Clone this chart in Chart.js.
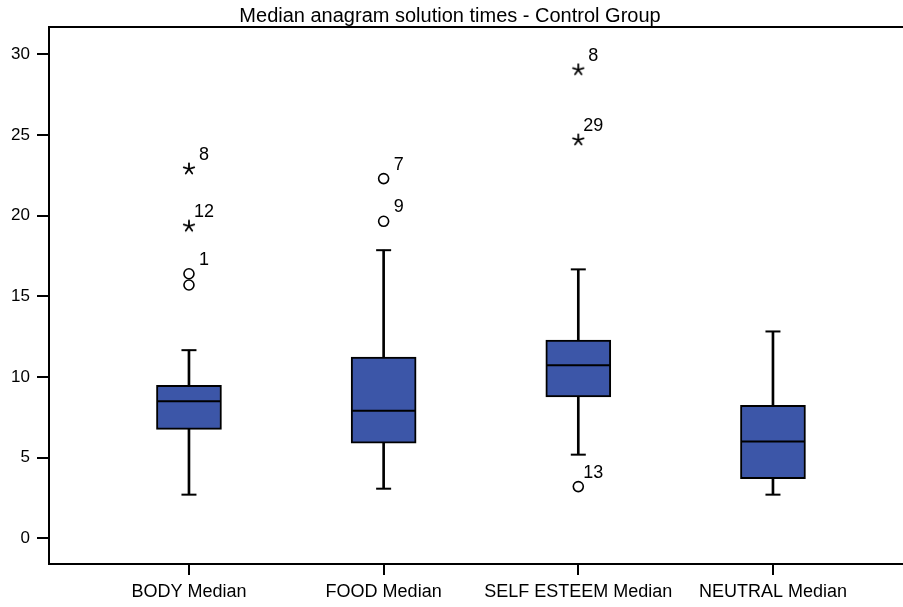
<!DOCTYPE html>
<html>
<head>
<meta charset="utf-8">
<script src="https://cdn.jsdelivr.net/npm/chart.js@4/dist/chart.umd.min.js"></script>
<style>
  html, body { margin: 0; padding: 0; background: #fff; }
  #wrap { width: 903px; height: 607px; }
</style>
</head>
<body>
<div id="wrap"><canvas id="c" width="903" height="607"></canvas></div>
<script>
// ---- data ----
const categories = ['BODY Median', 'FOOD Median', 'SELF ESTEEM Median', 'NEUTRAL Median'];
const whiskerLow  = [2.7, 3.07, 5.18, 2.7];
const q1          = [6.75, 5.9, 8.76, 3.69];
const median      = [8.49, 7.91, 10.73, 6.0];
const q3          = [9.48, 11.23, 12.28, 8.24];
const whiskerHigh = [11.66, 17.86, 16.67, 12.82];

// outliers (circles) and extremes (stars): category number, value, case label
const circleCat = [1, 1, 2, 2, 3];
const circleVal = [16.4, 15.7, 22.3, 19.65, 3.2];
const circleId  = ['1', '', '7', '9', '13'];
const starCat = [1, 1, 3, 3];
const starVal = [22.9, 19.35, 29.05, 24.7];
const starId  = ['8', '12', '8', '29'];

const yTicks = [0, 5, 10, 15, 20, 25, 30];
const title = 'Median anagram solution times - Control Group';

// ---- styles ----
const FONT = "'Liberation Sans', Arial, sans-serif";
const BOX_BLUE = '#3c56a8';

// asterisk marker
function makeStar() {
  const c = document.createElement('canvas');
  c.width = 14; c.height = 14;
  const g = c.getContext('2d');
  g.strokeStyle = '#000';
  g.lineWidth = 1.8;
  g.lineCap = 'round';
  for (let k = 0; k < 5; k++) {
    const a = -Math.PI / 2 + k * 2 * Math.PI / 5;
    g.beginPath();
    g.moveTo(7, 7);
    g.lineTo(7 + Math.cos(a) * 5.5, 7 + Math.sin(a) * 5.5);
    g.stroke();
  }
  return c;
}
const starImg = makeStar();

const xs = categories.map((_, i) => i + 1);

function zeroPad(s) { s.paddingTop = 0; s.paddingBottom = 0; s.paddingLeft = 0; s.paddingRight = 0; }

const framePlugin = {
  id: 'frameAndLabels',
  beforeDatasetsDraw(chart) {
    const ca = chart.chartArea, ctx = chart.ctx;
    ctx.save();
    ctx.strokeStyle = '#000';
    ctx.lineWidth = 2;
    ctx.beginPath();
    ctx.moveTo(ca.left - 1, ca.top);
    ctx.lineTo(chart.width, ca.top);
    ctx.stroke();
    // title
    ctx.fillStyle = '#000';
    ctx.font = '20px ' + FONT;
    ctx.textAlign = 'center';
    ctx.textBaseline = 'middle';
    ctx.fillText(title, 450, 16);
    ctx.restore();
  },
  afterDatasetsDraw(chart) {
    const ctx = chart.ctx;
    ctx.save();
    ctx.fillStyle = '#000';
    ctx.font = '18px ' + FONT;
    ctx.textAlign = 'center';
    ctx.textBaseline = 'middle';
    chart.data.datasets.forEach((ds, di) => {
      if (!ds.caseIds) return;
      const meta = chart.getDatasetMeta(di);
      meta.data.forEach((el, i) => {
        const t = ds.caseIds[i];
        if (t) ctx.fillText(t, el.x + 15, el.y - 14);
      });
    });
    ctx.restore();
  }
};

new Chart(document.getElementById('c'), {
  type: 'bar',
  data: {
    datasets: [
      {
        label: 'whisker',
        data: xs.map((x, i) => ({ x, y: [whiskerLow[i], whiskerHigh[i]] })),
        backgroundColor: '#000',
        borderWidth: 0,
        barThickness: 2,
        grouped: false,
        order: 5
      },
      {
        label: 'box',
        data: xs.map((x, i) => ({ x, y: [q1[i], q3[i]] })),
        backgroundColor: BOX_BLUE,
        borderColor: '#000',
        borderWidth: 2,
        borderSkipped: false,
        barThickness: 65,
        grouped: false,
        order: 4
      },
      {
        type: 'scatter',
        label: 'median',
        data: xs.map((x, i) => ({ x, y: median[i] })),
        pointStyle: 'line',
        pointRadius: 31.5,
        borderColor: '#000',
        borderWidth: 2,
        order: 3
      },
      {
        type: 'scatter',
        label: 'caps',
        data: xs.map((x, i) => ({ x, y: whiskerLow[i] })).concat(xs.map((x, i) => ({ x, y: whiskerHigh[i] }))),
        pointStyle: 'line',
        pointRadius: 7.5,
        borderColor: '#000',
        borderWidth: 2,
        order: 3
      },
      {
        type: 'scatter',
        label: 'outliers',
        data: circleCat.map((c, i) => ({ x: c, y: circleVal[i] })),
        caseIds: circleId,
        pointStyle: 'circle',
        pointRadius: 5,
        backgroundColor: 'rgba(0,0,0,0)',
        borderColor: '#000',
        borderWidth: 1.6,
        order: 1
      },
      {
        type: 'scatter',
        label: 'extremes',
        data: starCat.map((c, i) => ({ x: c, y: starVal[i] })),
        caseIds: starId,
        pointStyle: starImg,
        pointRadius: 6,
        order: 1
      }
    ]
  },
  options: {
    responsive: false,
    animation: false,
    devicePixelRatio: 1,
    events: [],
    layout: { autoPadding: false, padding: { top: 27, right: 0, bottom: 0, left: 0 } },
    plugins: {
      legend: { display: false },
      tooltip: { enabled: false },
      title: { display: false }
    },
    scales: {
      x: {
        type: 'linear',
        min: 0.281,
        max: 4.668,
        offset: false,
        afterBuildTicks: s => { s.ticks = xs.map(v => ({ value: v })); },
        afterFit: s => { s.height = 43; zeroPad(s); },
        ticks: {
          callback: v => categories[v - 1],
          color: '#000',
          font: { family: FONT, size: 18 },
          padding: 6,
          maxRotation: 0,
          autoSkip: false
        },
        grid: { display: true, offset: false, drawOnChartArea: false, drawTicks: true, tickLength: 11, color: '#000', lineWidth: 2 },
        border: { display: true, color: '#000', width: 2 }
      },
      y: {
        min: -1.6,
        max: 31.7,
        afterBuildTicks: s => { s.ticks = yTicks.map(v => ({ value: v })); },
        afterFit: s => { s.width = 49; zeroPad(s); },
        ticks: {
          color: '#000',
          font: { family: FONT, size: 17 },
          padding: 7
        },
        grid: { display: true, drawOnChartArea: false, drawTicks: true, tickLength: 12, color: '#000', lineWidth: 2 },
        border: { display: true, color: '#000', width: 2 }
      }
    }
  },
  plugins: [framePlugin]
});
</script>
</body>
</html>
